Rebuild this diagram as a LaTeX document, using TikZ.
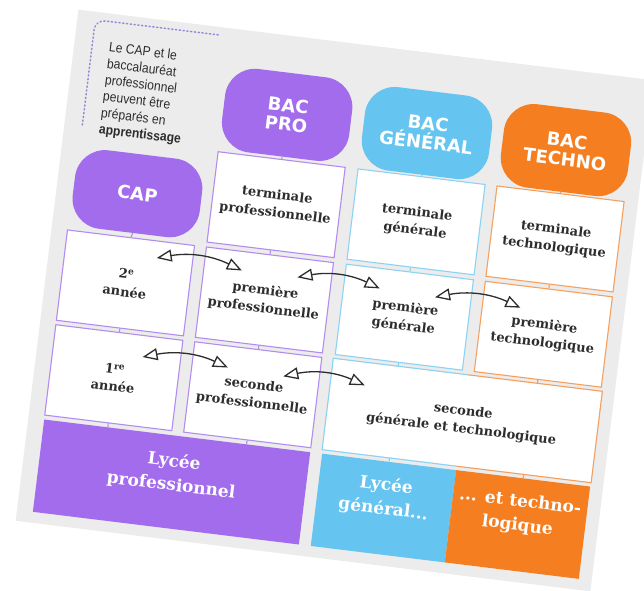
\documentclass[tikz,border=0pt]{standalone}
\usepackage{fontspec}
\usetikzlibrary{arrows.meta,calc}

\newfontfamily\slabfont{DejaVu Serif}
\newfontfamily\headfont{DejaVu Sans}
\newfontfamily\notefont[FakeStretch=0.9]{Liberation Sans}

\definecolor{bgray}{RGB}{236,236,236}
\definecolor{propurple}{RGB}{163,108,236}
\definecolor{genblue}{RGB}{102,196,241}
\definecolor{techorange}{RGB}{245,127,32}
\definecolor{prolight}{RGB}{178,140,238}
\definecolor{genlight}{RGB}{140,210,242}
\definecolor{techlight}{RGB}{246,160,95}
\definecolor{inkgray}{RGB}{45,45,45}
\definecolor{notedots}{RGB}{150,135,215}

\tikzset{
	pill/.style={rounded corners=30pt, minimum width=128pt, minimum height=84pt, align=center, text=white, font=\headfont\bfseries\fontsize{18}{19}\selectfont},
	classe/.style={draw, fill=white, line width=1.1pt, minimum width=128pt, minimum height=91pt, align=center, text=inkgray, font=\slabfont\bfseries\fontsize{13}{18}\selectfont},
	lycee/.style={minimum height=93pt},
	lyceetxt/.style={align=center, text=white, font=\slabfont\bfseries\fontsize{17}{24}\selectfont},
	lien/.style={line width=1.1pt},
	passerelle/.style={{Triangle[open,length=15pt,width=12pt]}-{Triangle[open,length=15pt,width=12pt]}, line width=1.3pt, draw=inkgray, bend left=18},
}

\begin{document}
\begin{tikzpicture}[x=1pt,y=1pt]
		%%%%% START %%%%%
		\useasboundingbox (0,0) rectangle (644,-590);
		\clip (0,0) rectangle (644,-590);
		
		\begin{scope}[rotate=-7, transform shape]
		\fill[bgray] (79,0) rectangle (658,-515);
		
		% note apprentissage
		\draw[notedots, line width=1.5pt, dash pattern=on 1.2pt off 2.6pt, line cap=round, rounded corners=10pt] (97,-114) -- (97,-8) -- (221,-8);
		\node[anchor=north west, inner sep=0pt, align=left, text=inkgray, font=\notefont\fontsize{13.5}{16.5}\selectfont] (note) at (114,-28) {Le CAP et le\\baccalauréat\\professionnel\\peuvent être\\préparés en\\\textbf{apprentissage}};
		
		% diplomes
		\node[pill, fill=propurple, minimum height=79pt] (cap) at (160,-175.5) {CAP};
		\node[pill, fill=propurple] (bacpro) at (299,-79) {BAC\\PRO};
		\node[pill, fill=genblue] (bacgen) at (440,-80) {BAC\\GÉNÉRAL};
		\node[pill, fill=techorange] (bactech) at (580,-80) {BAC\\TECHNO};
		
		% classes
		\node[classe, draw=prolight] (termpro) at (299,-169.5) {terminale\\professionnelle};
		\node[classe, draw=genlight] (termgen) at (440,-169.5) {terminale\\générale};
		\node[classe, draw=techlight] (termtech) at (580,-169.5) {terminale\\technologique};
		
		\node[classe, draw=prolight] (capdeux) at (159,-265.5) {2\textsuperscript{e}\\année};
		\node[classe, draw=prolight] (prempro) at (299,-265.5) {première\\professionnelle};
		\node[classe, draw=genlight] (premgen) at (440,-265.5) {première\\générale};
		\node[classe, draw=techlight] (premtech) at (580,-265.5) {première\\technologique};
		
		\node[classe, draw=prolight] (capun) at (159,-361) {1\textsuperscript{re}\\année};
		\node[classe, draw=prolight] (secpro) at (299,-361) {seconde\\professionnelle};
		\node[classe, draw=none, minimum width=270pt] (secgen) at (510,-361) {seconde\\générale et technologique};
		\coordinate (sgtop) at ($(secgen.north west)!0.5!(secgen.north east)$);
		\coordinate (sgbot) at ($(secgen.south west)!0.5!(secgen.south east)$);
		\draw[genlight, lien] (sgtop) -- (secgen.north west) -- (secgen.south west) -- (sgbot);
		\draw[techlight, lien] (sgtop) -- (secgen.north east) -- (secgen.south east) -- (sgbot);
		
		% lycees
		\node[lycee, fill=propurple, minimum width=268pt] (lycpro) at (229,-457.5) {};
		\node[lycee, fill=genblue, minimum width=135pt] (lycgen) at (442.5,-457.5) {};
		\node[lycee, fill=techorange, minimum width=135pt] (lyctech) at (577.5,-457.5) {};
		\node[lyceetxt] (lycprotxt) at (229,-449) {Lycée\\professionnel};
		\node[lyceetxt] (lycgentxt) at (442.5,-447) {Lycée\\général...};
		\node[lyceetxt] (lyctechtxt) at (577.5,-447) {... et techno-\\logique};
		
		% liens
		\draw[prolight, lien] (cap.south) -- (capdeux.north);
		\draw[prolight, lien] (capdeux.south) -- (capun.north);
		\draw[prolight, lien] (capun.south) -- ($(lycpro.north west)!0.24!(lycpro.north east)$);
		\draw[prolight, lien] (bacpro.south) -- (termpro.north);
		\draw[prolight, lien] (termpro.south) -- (prempro.north);
		\draw[prolight, lien] (prempro.south) -- (secpro.north);
		\draw[prolight, lien] (secpro.south) -- ($(lycpro.north west)!0.76!(lycpro.north east)$);
		\draw[genlight, lien] (bacgen.south) -- (termgen.north);
		\draw[genlight, lien] (termgen.south) -- (premgen.north);
		\draw[genlight, lien] (premgen.south) -- ($(secgen.north west)!0.24!(secgen.north east)$);
		\draw[genlight, lien] ($(secgen.south west)!0.25!(secgen.south east)$) -- (lycgen.north);
		\draw[techlight, lien] (bactech.south) -- (termtech.north);
		\draw[techlight, lien] (termtech.south) -- (premtech.north);
		\draw[techlight, lien] (premtech.south) -- ($(secgen.north west)!0.76!(secgen.north east)$);
		\draw[techlight, lien] ($(secgen.south west)!0.75!(secgen.south east)$) -- (lyctech.north);
		
		% passerelles
		\coordinate (p1a) at (187,-237); \coordinate (p1b) at (273,-239);
		\coordinate (p2a) at (185,-337); \coordinate (p2b) at (271,-337);
		\coordinate (p3a) at (329,-239); \coordinate (p3b) at (412,-240);
		\coordinate (p4a) at (468,-242); \coordinate (p4b) at (554,-242);
		\coordinate (p5a) at (327,-339); \coordinate (p5b) at (409,-338);
		\draw[passerelle] (p1a) to (p1b);
		\draw[passerelle] (p2a) to (p2b);
		\draw[passerelle] (p3a) to (p3b);
		\draw[passerelle] (p4a) to (p4b);
		\draw[passerelle] (p5a) to (p5b);
		\end{scope}
		%%%%% END %%%%%
\end{tikzpicture}
\end{document}
